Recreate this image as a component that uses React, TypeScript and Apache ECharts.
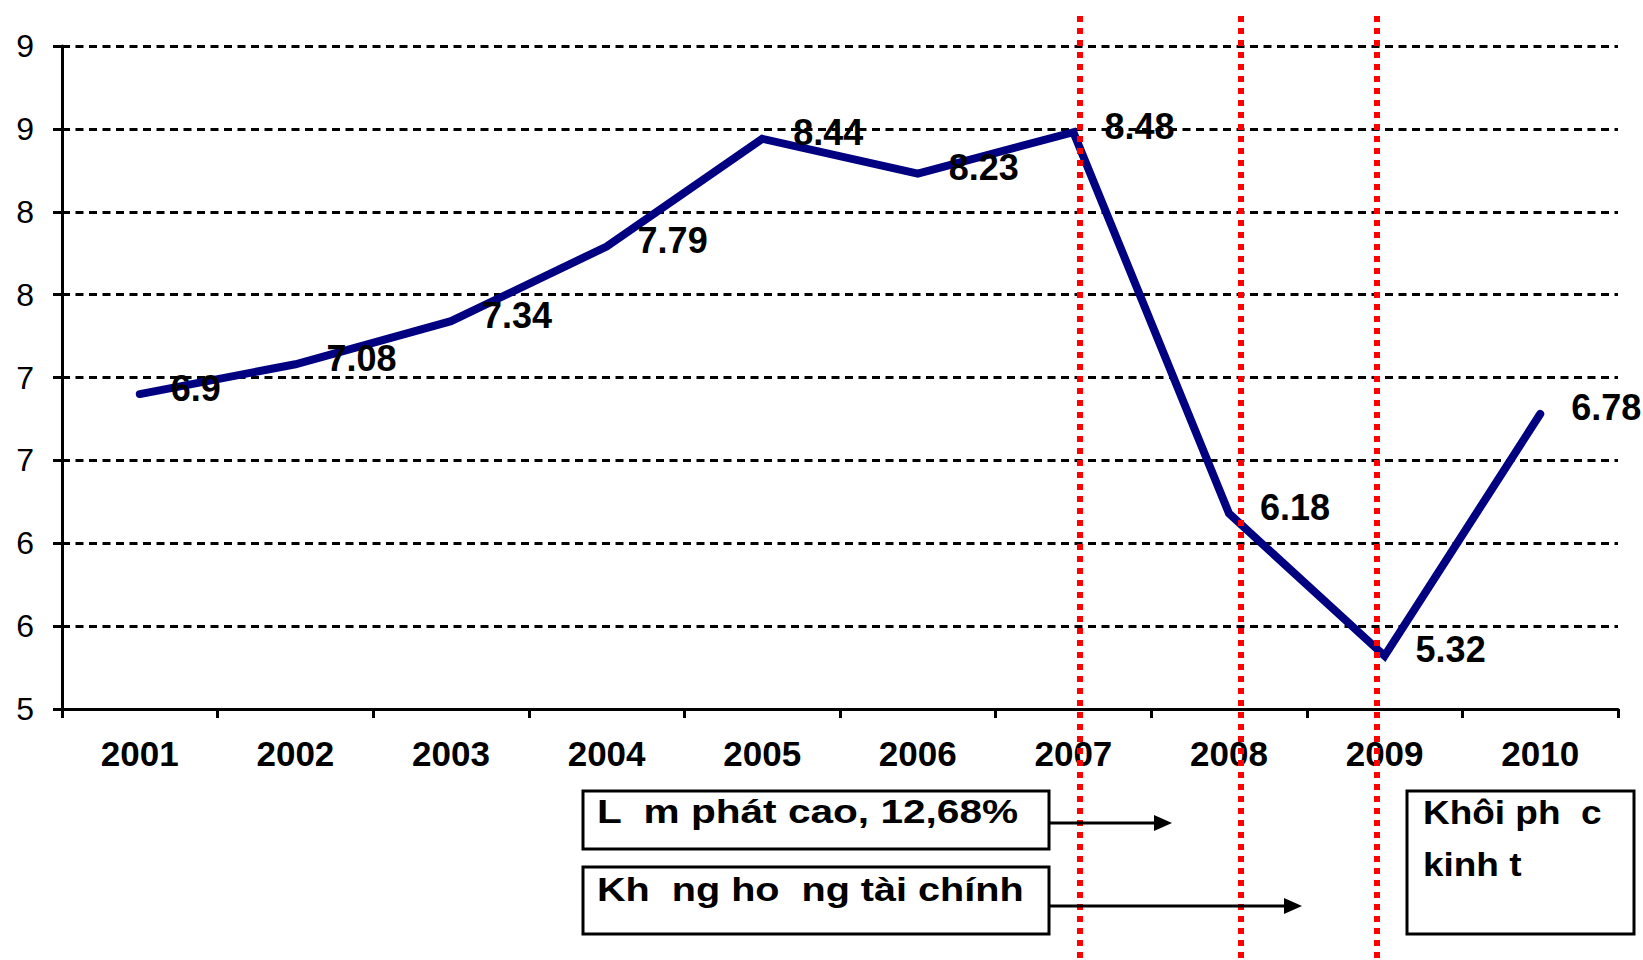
import React, { useEffect, useRef } from "react";
import * as echarts from "echarts";

const years = ["2001", "2002", "2003", "2004", "2005", "2006", "2007", "2008", "2009", "2010"];
const growth = [6.9, 7.08, 7.34, 7.79, 8.44, 8.23, 8.48, 6.18, 5.32, 6.78];
const yMin = 5;
const yMax = 9;
const yStep = 0.5;

const boxTexts = ["L  m phát cao, 12,68%", "Kh  ng ho  ng tài chính"];
const recoveryLines = ["Khôi ph  c", "kinh t"];

const FONT = "'Liberation Sans', Arial, sans-serif";

export default function App() {
  const ref = useRef<HTMLDivElement>(null);
  useEffect(() => {
    if (!ref.current) return;
    const chart = echarts.init(ref.current, null, { renderer: "svg" });
    const redX = [1080, 1241, 1377];
    const graphic: any[] = [];
    redX.forEach((x) => {
      graphic.push({
        type: "line",
        z: 100,
        shape: { x1: x, y1: 16, x2: x, y2: 958 },
        style: { stroke: "#FF0000", lineWidth: 6, lineDash: [6, 6] },
      });
    });
    const boxStyle = { fill: "#ffffff", stroke: "#000000", lineWidth: 3 };
    graphic.push({ type: "rect", z: 90, shape: { x: 583, y: 791, width: 466, height: 58 }, style: boxStyle });
    graphic.push({ type: "rect", z: 90, shape: { x: 583, y: 867, width: 466, height: 67 }, style: boxStyle });
    graphic.push({ type: "rect", z: 90, shape: { x: 1407, y: 791, width: 227, height: 143 }, style: boxStyle });
    const textStyle = (t: string) => ({
      text: t,
      fill: "#000",
      font: `bold 33px ${FONT}`,
      align: "left",
      verticalAlign: "middle",
    });
    graphic.push({ type: "text", z: 110, x: 597, y: 812, scaleX: 1.23, style: textStyle(boxTexts[0]) });
    graphic.push({ type: "text", z: 110, x: 597, y: 890, scaleX: 1.2, style: textStyle(boxTexts[1]) });
    graphic.push({ type: "text", z: 110, x: 1423, y: 812, scaleX: 1.12, style: textStyle(recoveryLines[0]) });
    graphic.push({ type: "text", z: 110, x: 1423, y: 864, scaleX: 1.12, style: textStyle(recoveryLines[1]) });
    // arrows
    graphic.push({ type: "line", z: 110, shape: { x1: 1049, y1: 823, x2: 1158, y2: 823 }, style: { stroke: "#000", lineWidth: 3 } });
    graphic.push({ type: "polygon", z: 110, shape: { points: [[1154, 815], [1172, 823], [1154, 831]] }, style: { fill: "#000" } });
    graphic.push({ type: "line", z: 110, shape: { x1: 1049, y1: 906, x2: 1288, y2: 906 }, style: { stroke: "#000", lineWidth: 3 } });
    graphic.push({ type: "polygon", z: 110, shape: { points: [[1284, 898], [1302, 906], [1284, 914]] }, style: { fill: "#000" } });

    chart.setOption({
      animation: false,
      backgroundColor: "#ffffff",
      grid: { left: 62, right: 25, top: 46, bottom: 251, containLabel: false },
      xAxis: {
        type: "category",
        data: years,
        boundaryGap: true,
        axisLine: { lineStyle: { color: "#000", width: 3 } },
        axisTick: { show: true, length: 9, inside: false, alignWithLabel: false, lineStyle: { color: "#000", width: 3 } },
        axisLabel: { color: "#000", fontFamily: FONT, fontWeight: "bold", fontSize: 35, margin: 27 },
        splitLine: { show: false },
      },
      yAxis: {
        type: "value",
        min: yMin,
        max: yMax,
        interval: yStep,
        axisLine: { show: true, lineStyle: { color: "#000", width: 3 } },
        axisTick: { show: true, length: 9, lineStyle: { color: "#000", width: 3 } },
        axisLabel: {
          color: "#000",
          fontFamily: FONT,
          fontSize: 32,
          margin: 28,
          formatter: (v: number) => v.toFixed(0),
        },
        splitLine: { show: true, lineStyle: { color: "#000", width: 3, type: [8, 5.5] } },
      },
      series: [
        {
          type: "line",
          data: growth,
          symbol: "circle",
          symbolSize: 2,
          itemStyle: { color: "#000080" },
          lineStyle: { color: "#000080", width: 8, cap: "round", join: "miter" },
          label: {
            show: true,
            position: "right",
            distance: 30,
            offset: [0, -6],
            color: "#000",
            fontFamily: FONT,
            fontWeight: "bold",
            fontSize: 36,
            formatter: (p: any) => String(p.value),
          },
          z: 5,
        },
      ],
      graphic,
    });
    return () => chart.dispose();
  }, []);
  return (
    <div
      ref={ref}
      style={{ position: "fixed", left: 0, top: 0, width: 1643, height: 960, background: "#fff" }}
    />
  );
}
